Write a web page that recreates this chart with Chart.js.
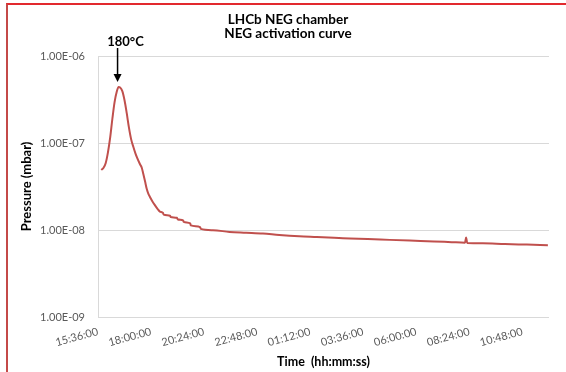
<!DOCTYPE html>
<html>
<head>
<meta charset="utf-8">
<script src="https://cdn.jsdelivr.net/npm/chart.js@4.4.1/dist/chart.umd.min.js"></script>
<style>
  body { margin: 0; background: #fff; }
  #frame { position: absolute; left: 6px; top: 3px; width: 600px; height: 400px;
           border-top: 2px solid #e2292e; border-left: 2px solid #c44a48; }
  #wrap { position: absolute; left: 0; top: 0; width: 566px; height: 372px; }
</style>
</head>
<body>
<div id="frame"></div>
<div id="wrap"><canvas id="myChart" width="566" height="372"></canvas></div>
<script>
// time in hours since midnight of the first day (values > 24 are the next morning)
var times = [15.75, 15.85, 15.95, 16.05, 16.15, 16.25, 16.35, 16.45, 16.53, 16.6,
  16.7, 16.8, 16.9, 17.0, 17.1, 17.2, 17.3, 17.42, 17.5, 17.58,
  17.65, 17.73, 17.8, 17.88, 17.95, 18.05, 18.18, 18.3, 18.4, 18.54,
  18.57, 18.86, 18.89, 19.17, 19.2, 19.45, 19.48, 19.77, 19.8, 20.22,
  20.25, 20.8, 21.55, 22.3, 23.06, 23.8, 24.7, 25.5, 26.5, 27.0,
  27.8, 28.8, 29.7, 30.8, 31.6, 32.2, 32.25, 32.3, 33.0, 34.0,
  35.0, 35.95];

// pressure in mbar
var pressure = [4.9e-8, 5.2e-8, 5.9e-8, 7.8e-8, 1.15e-7, 1.9e-7, 2.95e-7, 3.9e-7, 4.4e-7, 4.35e-7,
  3.95e-7, 3.1e-7, 2.2e-7, 1.5e-7, 1.1e-7, 9.0e-8, 7.5e-8, 6.3e-8, 5.7e-8, 5.2e-8,
  4.4e-8, 3.6e-8, 3.0e-8, 2.6e-8, 2.4e-8, 2.15e-8, 1.92e-8, 1.74e-8, 1.63e-8, 1.57e-8,
  1.5e-8, 1.46e-8, 1.41e-8, 1.38e-8, 1.33e-8, 1.29e-8, 1.24e-8, 1.19e-8, 1.13e-8, 1.08e-8,
  1.03e-8, 9.95e-9, 9.5e-9, 9.3e-9, 9.1e-9, 8.75e-9, 8.45e-9, 8.3e-9, 8.1e-9, 8.0e-9,
  7.9e-9, 7.7e-9, 7.55e-9, 7.4e-9, 7.25e-9, 7.15e-9, 8.2e-9, 7.1e-9, 7.05e-9, 6.9e-9,
  6.8e-9, 6.7e-9];

var xTicks = [15.6, 18.0, 20.4, 22.8, 25.2, 27.6, 30.0, 32.4, 34.8];
var yTicks = [1e-9, 1e-8, 1e-7, 1e-6];
var titleLines = ['LHCb NEG chamber', 'NEG activation curve'];
var peakLabel = '180\u00B0C';

var points = times.map(function (t, i) { return {x: t, y: pressure[i]}; });

function hhmmss(v) {
  var m = Math.round(v * 60) % 1440;
  var h = Math.floor(m / 60), mm = m % 60;
  return (h < 10 ? '0' : '') + h + ':' + (mm < 10 ? '0' : '') + mm + ':00';
}

function sci(v) {
  var e = Math.round(Math.log10(v));
  var mant = v / Math.pow(10, e);
  var sign = e < 0 ? '-' : '+';
  var ae = Math.abs(e);
  return mant.toFixed(2) + 'E' + sign + (ae < 10 ? '0' : '') + ae;
}

var overlay = {
  id: 'overlay',
  afterDraw: function (chart) {
    var ctx = chart.ctx;
    var xs = chart.scales.x, ys = chart.scales.y;
    ctx.save();
    ctx.fillStyle = '#000';
    ctx.font = 'bold 13.5px Lato';
    ctx.textAlign = 'center';
    ctx.textBaseline = 'middle';
    titleLines.forEach(function (t, i) { ctx.fillText(t, 288, 20 + i * 13.5); });

    // arrow pointing at the peak
    var k = pressure.indexOf(Math.max.apply(null, pressure));
    var ax = xs.getPixelForValue(times[k]) - 1;
    var tip = ys.getPixelForValue(pressure[k]) - 5;
    ctx.strokeStyle = '#000';
    ctx.lineWidth = 1.5;
    ctx.beginPath();
    ctx.moveTo(ax, tip - 34);
    ctx.lineTo(ax, tip - 6);
    ctx.stroke();
    ctx.beginPath();
    ctx.moveTo(ax - 4, tip - 8);
    ctx.lineTo(ax + 4, tip - 8);
    ctx.lineTo(ax, tip);
    ctx.closePath();
    ctx.fill();
    ctx.font = 'bold 13px Lato';
    ctx.fillText(peakLabel, ax + 8, tip - 40);
    ctx.restore();
  }
};

var ctx = document.getElementById('myChart').getContext('2d');
var myChart = new Chart(ctx, {
  type: 'line',
  data: {
    datasets: [{
      data: points,
      borderColor: '#c0504d',
      borderWidth: 2,
      pointRadius: 0,
      cubicInterpolationMode: 'monotone',
      fill: false
    }]
  },
  options: {
    responsive: false,
    animation: false,
    events: [],
    layout: { padding: { left: 14, right: 17, top: 56, bottom: 0 } },
    plugins: { legend: { display: false }, title: { display: false }, tooltip: { enabled: false } },
    scales: {
      x: {
        type: 'linear',
        min: 15.6,
        max: 36,
        afterBuildTicks: function (s) { s.ticks = xTicks.map(function (v) { return {value: v}; }); },
        afterFit: function (s) { s.height = 55; },
        grid: { display: false, drawTicks: false },
        border: { display: false },
        ticks: {
          autoSkip: false,
          minRotation: 15,
          maxRotation: 15,
          padding: 8,
          color: '#595959',
          font: { family: 'Lato', size: 11 },
          callback: function (v) { return hhmmss(v); }
        },
        title: {
          display: true,
          text: 'Time  (hh:mm:ss)',
          color: '#000',
          font: { family: 'Lato', size: 12.5, weight: 'bold' },
          padding: { top: 0, bottom: 3 }
        }
      },
      y: {
        type: 'logarithmic',
        min: 1e-9,
        max: 1e-6,
        afterBuildTicks: function (s) { s.ticks = yTicks.map(function (v) { return {value: v}; }); },
        afterFit: function (s) { s.width = 84; },
        grid: { color: '#d9d9d9', lineWidth: 1, drawTicks: false },
        border: { display: true, color: '#d9d9d9' },
        ticks: {
          padding: 13,
          color: '#595959',
          font: { family: 'Lato', size: 11 },
          callback: function (v) { return sci(v); }
        },
        title: {
          display: true,
          text: 'Pressure (mbar)',
          color: '#000',
          font: { family: 'Lato', size: 13, weight: 'bold' },
          padding: { top: 5, bottom: 0 }
        }
      }
    }
  },
  plugins: [overlay]
});
</script>
</body>
</html>
